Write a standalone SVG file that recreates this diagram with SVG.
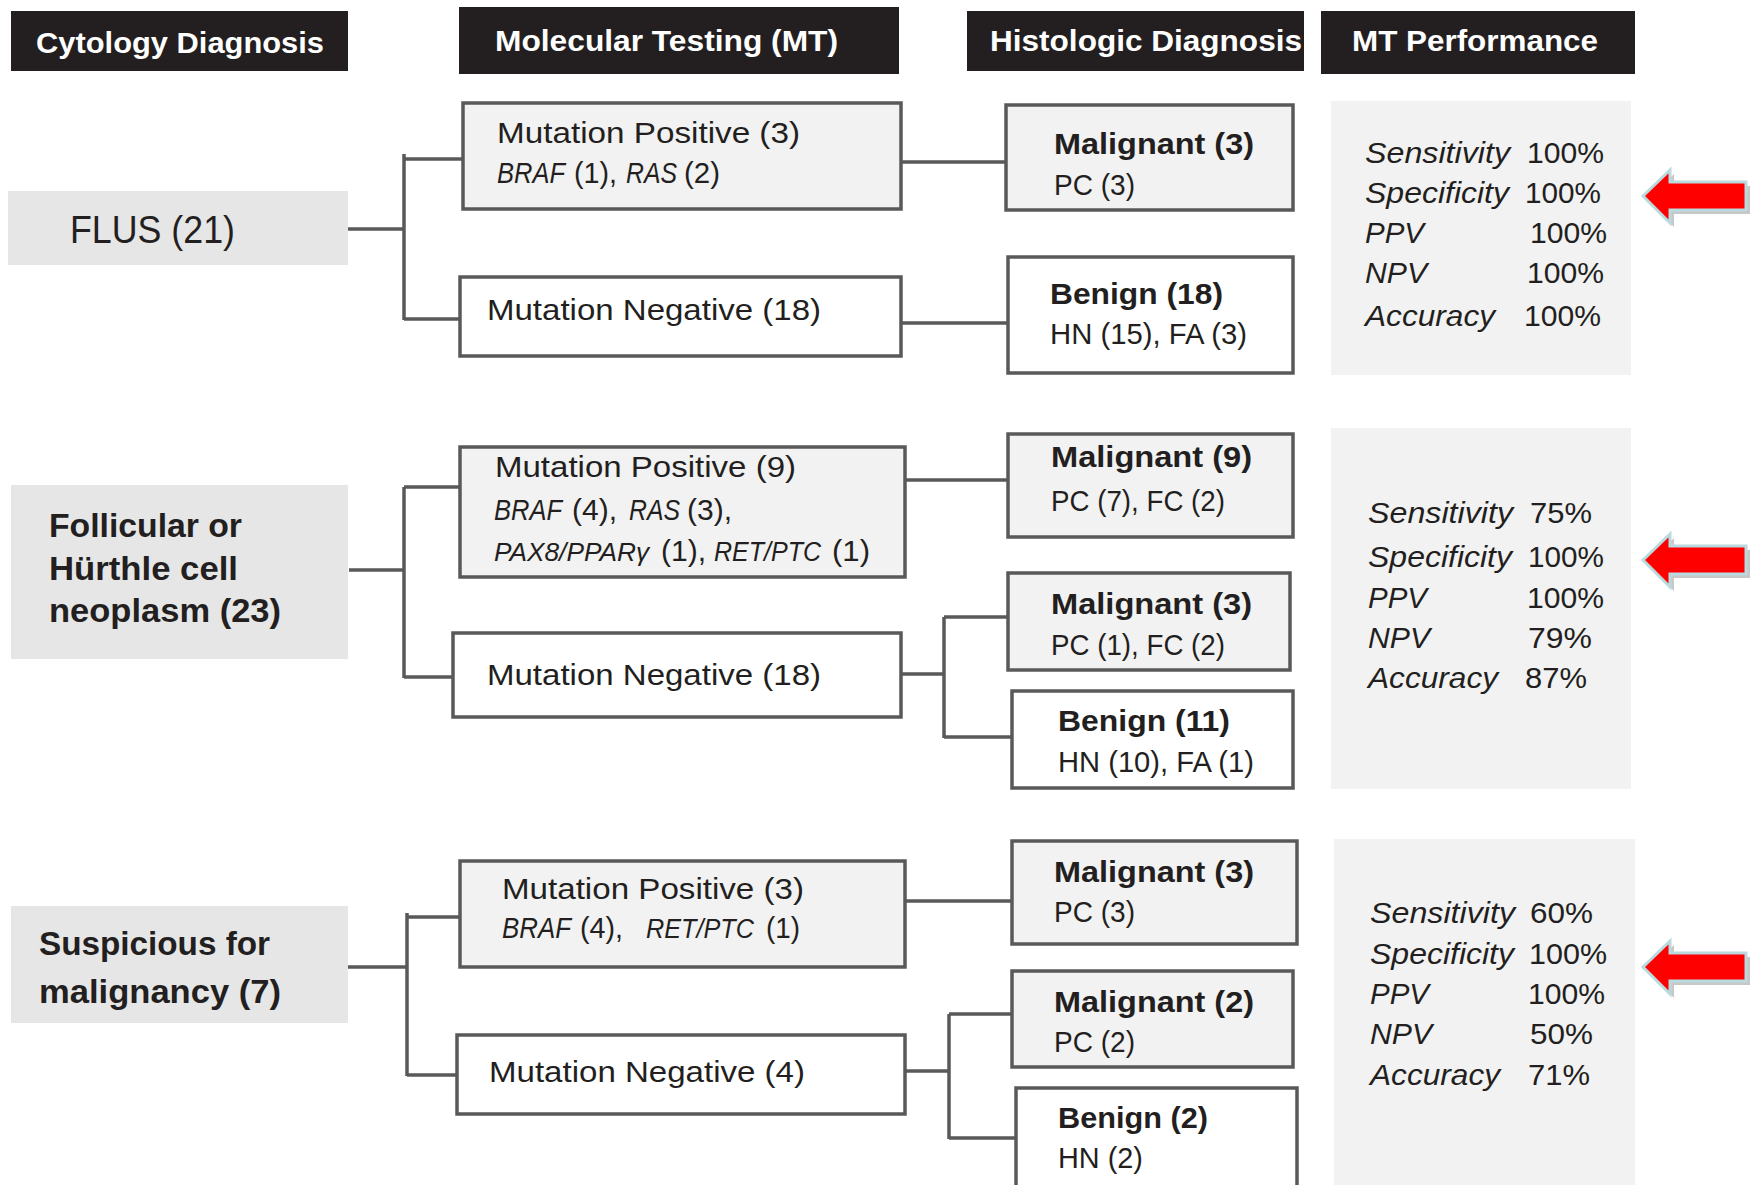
<svg xmlns="http://www.w3.org/2000/svg" width="1756" height="1185" viewBox="0 0 1756 1185">
<style>
text{font-family:"Liberation Sans",Arial,sans-serif;fill:#231f20;}
.hd{fill:#231f20;}
.ht{fill:#ffffff;font-weight:bold;font-size:29px;}
.cy{fill:#e6e6e6;}
.cyt{font-weight:bold;font-size:34px;}
.box{stroke:#595959;stroke-width:3.5;}
.g{fill:#f2f2f2;}
.w{fill:#ffffff;}
.mt{font-size:29px;}
.hb{font-size:30px;font-weight:bold;}
.hr{font-size:30px;}
.pan{fill:#f2f2f2;}
.lab{font-size:30px;font-style:italic;}
.val{font-size:30px;}
.it{font-style:italic;}
.con path{fill:none;stroke:#595959;stroke-width:3.5;}
</style>
<defs>
<g id="arr">
<polygon points="4,4 31,-22 31,-10 107,-10 107,18 31,18 31,31" fill="#c8c8c8"/>
<polygon points="0,0 27,-26 27,-14 103,-14 103,14 27,14 27,27" fill="#ff0000" stroke="#b9dade" stroke-width="3" stroke-linejoin="miter"/>
</g>
</defs>
<rect width="1756" height="1185" fill="#ffffff"/>

<g id="headers">
<rect class="hd" x="11" y="11" width="337" height="60"/>
<text class="ht" x="36" y="53" textLength="288" lengthAdjust="spacingAndGlyphs">Cytology Diagnosis</text>
<rect class="hd" x="459" y="7" width="440" height="67"/>
<text class="ht" x="495" y="51" textLength="343" lengthAdjust="spacingAndGlyphs">Molecular Testing (MT)</text>
<rect class="hd" x="967" y="11" width="337" height="60"/>
<text class="ht" x="990" y="51" textLength="312" lengthAdjust="spacingAndGlyphs">Histologic Diagnosis</text>
<rect class="hd" x="1321" y="11" width="314" height="63"/>
<text class="ht" x="1352" y="51" textLength="246" lengthAdjust="spacingAndGlyphs">MT Performance</text>
</g>

<g id="connectors" class="con">
<path d="M346,229 H404 M404,154 V320 M404,159 H463 M404,319 H460"/>
<path d="M901,162 H1006"/>
<path d="M901,323 H1008"/>
<path d="M349,570 H404 M404,487 V678 M404,487 H460 M404,677 H453"/>
<path d="M905,480 H1008"/>
<path d="M901,674 H944 M944,617 V738 M944,617 H1008 M944,737 H1012"/>
<path d="M343,967 H407 M407,913 V1076 M407,917 H460 M407,1075 H457"/>
<path d="M905,901 H1012"/>
<path d="M905,1071 H949 M949,1014 V1139 M949,1014 H1012 M949,1138 H1016"/>
</g>

<g id="cyt-flus">
<rect class="cy" x="8" y="191" width="340" height="74"/>
<text x="70" y="243" font-size="38" textLength="165" lengthAdjust="spacingAndGlyphs">FLUS (21)</text>
</g>
<g id="cyt-follicular">
<rect class="cy" x="11" y="485" width="337" height="174"/>
<text class="cyt" x="49" y="537" textLength="193" lengthAdjust="spacingAndGlyphs">Follicular or</text>
<text class="cyt" x="49" y="580" textLength="189" lengthAdjust="spacingAndGlyphs">Hürthle cell</text>
<text class="cyt" x="49" y="622" textLength="232" lengthAdjust="spacingAndGlyphs">neoplasm (23)</text>
</g>
<g id="cyt-suspicious">
<rect class="cy" x="11" y="906" width="337" height="117"/>
<text class="cyt" x="39" y="955" font-size="35" textLength="231" lengthAdjust="spacingAndGlyphs">Suspicious for</text>
<text class="cyt" x="39" y="1003" font-size="35" textLength="242" lengthAdjust="spacingAndGlyphs">malignancy (7)</text>
</g>

<g id="mt-pos-1">
<rect class="box g" x="463" y="103" width="438" height="106"/>
<text class="mt" x="497" y="143" textLength="303" lengthAdjust="spacingAndGlyphs">Mutation Positive (3)</text>
<text class="mt it" x="497" y="183" textLength="68" lengthAdjust="spacingAndGlyphs">BRAF</text>
<text class="mt" x="574" y="183" textLength="43" lengthAdjust="spacingAndGlyphs">(1),</text>
<text class="mt it" x="626" y="183" textLength="51" lengthAdjust="spacingAndGlyphs">RAS</text>
<text class="mt" x="684" y="183" textLength="36" lengthAdjust="spacingAndGlyphs">(2)</text>
</g>
<g id="mt-neg-1">
<rect class="box w" x="460" y="277" width="441" height="79"/>
<text class="mt" x="487" y="320" textLength="334" lengthAdjust="spacingAndGlyphs">Mutation Negative (18)</text>
</g>
<g id="mt-pos-2">
<rect class="box g" x="460" y="447" width="445" height="130"/>
<text class="mt" x="495" y="477" textLength="301" lengthAdjust="spacingAndGlyphs">Mutation Positive (9)</text>
<text class="mt it" x="494" y="520" textLength="68" lengthAdjust="spacingAndGlyphs">BRAF</text>
<text class="mt" x="572" y="520" textLength="45" lengthAdjust="spacingAndGlyphs">(4),</text>
<text class="mt it" x="629" y="520" textLength="51" lengthAdjust="spacingAndGlyphs">RAS</text>
<text class="mt" x="687" y="520" textLength="45" lengthAdjust="spacingAndGlyphs">(3),</text>
<text class="it" x="494" y="561" font-size="26" textLength="155" lengthAdjust="spacingAndGlyphs">PAX8/PPARγ</text>
<text class="mt" x="661" y="561" textLength="45" lengthAdjust="spacingAndGlyphs">(1),</text>
<text class="it" x="714" y="561" font-size="27" textLength="107" lengthAdjust="spacingAndGlyphs">RET/PTC</text>
<text class="mt" x="832" y="561" textLength="38" lengthAdjust="spacingAndGlyphs">(1)</text>
</g>
<g id="mt-neg-2">
<rect class="box w" x="453" y="633" width="448" height="84"/>
<text class="mt" x="487" y="685" textLength="334" lengthAdjust="spacingAndGlyphs">Mutation Negative (18)</text>
</g>
<g id="mt-pos-3">
<rect class="box g" x="460" y="861" width="445" height="106"/>
<text class="mt" x="502" y="899" textLength="302" lengthAdjust="spacingAndGlyphs">Mutation Positive (3)</text>
<text class="mt it" x="502" y="938" textLength="69" lengthAdjust="spacingAndGlyphs">BRAF</text>
<text class="mt" x="580" y="938" textLength="43" lengthAdjust="spacingAndGlyphs">(4),</text>
<text class="it" x="646" y="938" font-size="27" textLength="108" lengthAdjust="spacingAndGlyphs">RET/PTC</text>
<text class="mt" x="766" y="938" textLength="34" lengthAdjust="spacingAndGlyphs">(1)</text>
</g>
<g id="mt-neg-3">
<rect class="box w" x="457" y="1035" width="448" height="79"/>
<text class="mt" x="489" y="1082" textLength="316" lengthAdjust="spacingAndGlyphs">Mutation Negative (4)</text>
</g>

<g id="hist-mal-1">
<rect class="box g" x="1006" y="105" width="287" height="105"/>
<text class="hb" x="1054" y="154" textLength="200" lengthAdjust="spacingAndGlyphs">Malignant (3)</text>
<text class="hr" x="1054" y="195" textLength="81" lengthAdjust="spacingAndGlyphs">PC (3)</text>
</g>
<g id="hist-ben-1">
<rect class="box w" x="1008" y="257" width="285" height="116"/>
<text class="hb" x="1050" y="304" textLength="173" lengthAdjust="spacingAndGlyphs">Benign (18)</text>
<text class="hr" x="1050" y="344" textLength="197" lengthAdjust="spacingAndGlyphs">HN (15), FA (3)</text>
</g>
<g id="hist-mal-2">
<rect class="box g" x="1008" y="434" width="285" height="103"/>
<text class="hb" x="1051" y="467" textLength="201" lengthAdjust="spacingAndGlyphs">Malignant (9)</text>
<text class="hr" x="1051" y="511" textLength="174" lengthAdjust="spacingAndGlyphs">PC (7), FC (2)</text>
</g>
<g id="hist-mal-3">
<rect class="box g" x="1008" y="573" width="282" height="97"/>
<text class="hb" x="1051" y="614" textLength="201" lengthAdjust="spacingAndGlyphs">Malignant (3)</text>
<text class="hr" x="1051" y="655" textLength="174" lengthAdjust="spacingAndGlyphs">PC (1), FC (2)</text>
</g>
<g id="hist-ben-2">
<rect class="box w" x="1012" y="691" width="281" height="97"/>
<text class="hb" x="1058" y="731" textLength="172" lengthAdjust="spacingAndGlyphs">Benign (11)</text>
<text class="hr" x="1058" y="772" textLength="196" lengthAdjust="spacingAndGlyphs">HN (10), FA (1)</text>
</g>
<g id="hist-mal-4">
<rect class="box g" x="1012" y="841" width="285" height="103"/>
<text class="hb" x="1054" y="882" textLength="200" lengthAdjust="spacingAndGlyphs">Malignant (3)</text>
<text class="hr" x="1054" y="922" textLength="81" lengthAdjust="spacingAndGlyphs">PC (3)</text>
</g>
<g id="hist-mal-5">
<rect class="box g" x="1012" y="971" width="281" height="96"/>
<text class="hb" x="1054" y="1012" textLength="200" lengthAdjust="spacingAndGlyphs">Malignant (2)</text>
<text class="hr" x="1054" y="1052" textLength="81" lengthAdjust="spacingAndGlyphs">PC (2)</text>
</g>
<g id="hist-ben-3">
<rect class="box w" x="1016" y="1088" width="281" height="120"/>
<text class="hb" x="1058" y="1128" textLength="150" lengthAdjust="spacingAndGlyphs">Benign (2)</text>
<text class="hr" x="1058" y="1168" textLength="85" lengthAdjust="spacingAndGlyphs">HN (2)</text>
</g>

<g id="perf-1">
<rect class="pan" x="1331" y="101" width="300" height="274"/>
<text class="lab" x="1365" y="163" textLength="145" lengthAdjust="spacingAndGlyphs">Sensitivity</text>
<text class="lab" x="1365" y="203" textLength="144" lengthAdjust="spacingAndGlyphs">Specificity</text>
<text class="lab" x="1365" y="243" textLength="59" lengthAdjust="spacingAndGlyphs">PPV</text>
<text class="lab" x="1365" y="283" textLength="62" lengthAdjust="spacingAndGlyphs">NPV</text>
<text class="lab" x="1365" y="326" textLength="130" lengthAdjust="spacingAndGlyphs">Accuracy</text>
<text class="val" x="1527" y="163" textLength="77" lengthAdjust="spacingAndGlyphs">100%</text>
<text class="val" x="1525" y="203" textLength="76" lengthAdjust="spacingAndGlyphs">100%</text>
<text class="val" x="1530" y="243" textLength="77" lengthAdjust="spacingAndGlyphs">100%</text>
<text class="val" x="1527" y="283" textLength="77" lengthAdjust="spacingAndGlyphs">100%</text>
<text class="val" x="1524" y="326" textLength="77" lengthAdjust="spacingAndGlyphs">100%</text>
</g>
<g id="perf-2">
<rect class="pan" x="1331" y="428" width="300" height="361"/>
<text class="lab" x="1368" y="523" textLength="145" lengthAdjust="spacingAndGlyphs">Sensitivity</text>
<text class="lab" x="1368" y="567" textLength="144" lengthAdjust="spacingAndGlyphs">Specificity</text>
<text class="lab" x="1368" y="608" textLength="59" lengthAdjust="spacingAndGlyphs">PPV</text>
<text class="lab" x="1368" y="648" textLength="62" lengthAdjust="spacingAndGlyphs">NPV</text>
<text class="lab" x="1368" y="688" textLength="130" lengthAdjust="spacingAndGlyphs">Accuracy</text>
<text class="val" x="1530" y="523" textLength="62" lengthAdjust="spacingAndGlyphs">75%</text>
<text class="val" x="1528" y="567" textLength="76" lengthAdjust="spacingAndGlyphs">100%</text>
<text class="val" x="1527" y="608" textLength="77" lengthAdjust="spacingAndGlyphs">100%</text>
<text class="val" x="1528" y="648" textLength="64" lengthAdjust="spacingAndGlyphs">79%</text>
<text class="val" x="1525" y="688" textLength="62" lengthAdjust="spacingAndGlyphs">87%</text>
</g>
<g id="perf-3">
<rect class="pan" x="1334" y="839" width="301" height="360"/>
<text class="lab" x="1370" y="923" textLength="145" lengthAdjust="spacingAndGlyphs">Sensitivity</text>
<text class="lab" x="1370" y="964" textLength="144" lengthAdjust="spacingAndGlyphs">Specificity</text>
<text class="lab" x="1370" y="1004" textLength="59" lengthAdjust="spacingAndGlyphs">PPV</text>
<text class="lab" x="1370" y="1044" textLength="62" lengthAdjust="spacingAndGlyphs">NPV</text>
<text class="lab" x="1370" y="1085" textLength="130" lengthAdjust="spacingAndGlyphs">Accuracy</text>
<text class="val" x="1530" y="923" textLength="63" lengthAdjust="spacingAndGlyphs">60%</text>
<text class="val" x="1529" y="964" textLength="78" lengthAdjust="spacingAndGlyphs">100%</text>
<text class="val" x="1528" y="1004" textLength="77" lengthAdjust="spacingAndGlyphs">100%</text>
<text class="val" x="1530" y="1044" textLength="63" lengthAdjust="spacingAndGlyphs">50%</text>
<text class="val" x="1528" y="1085" textLength="62" lengthAdjust="spacingAndGlyphs">71%</text>
</g>

<g id="arrow-1"><use href="#arr" x="1643" y="196"/></g>
<g id="arrow-2"><use href="#arr" x="1643" y="560"/></g>
<g id="arrow-3"><use href="#arr" x="1643" y="967"/></g>
</svg>
